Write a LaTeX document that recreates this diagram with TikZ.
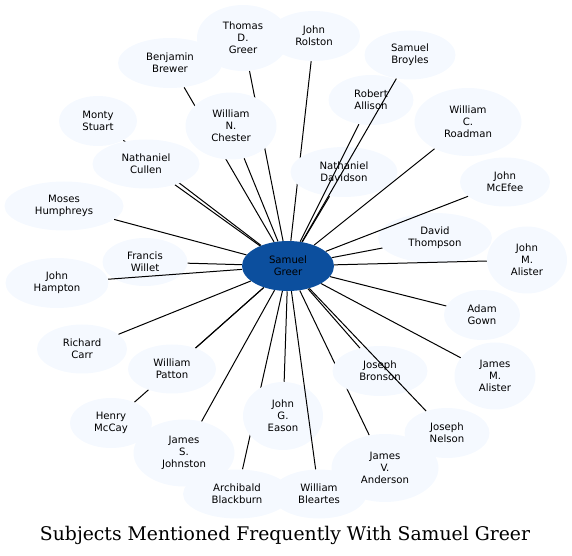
\documentclass[tikz,border=0pt]{standalone}
\usepackage{fontspec}
\newfontfamily\nodefont{DejaVu Sans}
\newfontfamily\titlefont{DejaVu Serif}
\usetikzlibrary{shapes.geometric}
\definecolor{nodefill}{HTML}{F5F9FF}
\definecolor{centerfill}{HTML}{0C4F9E}
\pgfdeclarelayer{background}
\pgfsetlayers{background,main}
\begin{document}
\begin{tikzpicture}[x=0.75pt,y=-0.75pt,
  pnode/.style={ellipse, fill=nodefill, inner sep=0pt, align=center,
    font=\nodefont\fontsize{7.6}{9}\selectfont},
  sz/.style 2 args={minimum width=#1*0.75pt, minimum height=#2*0.75pt},
  cnode/.style={pnode, fill=centerfill},
  edge/.style={line width=0.75pt, draw=black},
  titlestyle/.style={font=\titlefont\fontsize{14.1}{17}\selectfont, inner sep=0pt}]
\useasboundingbox (0,0) rectangle (572,556);

% nodes
\node[cnode, sz={92}{50}] (c) at (288,266) {Samuel\\Greer};
\node[pnode, sz={92}{66}] (tdg) at (243,38) {Thomas\\D.\\Greer};
\node[pnode, sz={92}{50}] (jr) at (314,36) {John\\Rolston};
\node[pnode, sz={91}{49}] (sb) at (410,55) {Samuel\\Broyles};
\node[pnode, sz={104}{50}] (bb) at (170,63) {Benjamin\\Brewer};
\node[pnode, sz={85}{50}] (ra) at (371,100) {Robert\\Allison};
\node[pnode, sz={107}{68}] (wcr) at (468,122) {William\\C.\\Roadman};
\node[pnode, sz={91}{67}] (wnc) at (231,126) {William\\N.\\Chester};
\node[pnode, sz={78}{50}] (ms) at (98,121) {Monty\\Stuart};
\node[pnode, sz={107}{49}] (nc) at (146,164) {Nathaniel\\Cullen};
\node[pnode, sz={107}{50}] (nd) at (344,172) {Nathaniel\\Davidson};
\node[pnode, sz={90}{49}] (jm) at (505,182) {John\\McEfee};
\node[pnode, sz={119}{49}] (mh) at (64,206) {Moses\\Humphreys};
\node[pnode, sz={114}{50}] (dt) at (435,238) {David\\Thompson};
\node[pnode, sz={85}{48}] (fw) at (145,262) {Francis\\Willet};
\node[pnode, sz={80}{67}] (jma) at (527,260) {John\\M.\\Alister};
\node[pnode, sz={103}{50}] (jh) at (57,283) {John\\Hampton};
\node[pnode, sz={76}{50}] (ag) at (482,315) {Adam\\Gown};
\node[pnode, sz={90}{49}] (rc) at (82,349) {Richard\\Carr};
\node[pnode, sz={88}{49}] (wp) at (172,369) {William\\Patton};
\node[pnode, sz={95}{50}] (jb) at (380,371) {Joseph\\Bronson};
\node[pnode, sz={81}{67}] (jmal) at (495,376) {James\\M.\\Alister};
\node[pnode, sz={80}{68}] (jge) at (283,416) {John\\G.\\Eason};
\node[pnode, sz={82}{50}] (hm) at (111,423) {Henry\\McCay};
\node[pnode, sz={85}{50}] (jn) at (447,433) {Joseph\\Nelson};
\node[pnode, sz={101}{67}] (jsj) at (184,453) {James\\S.\\Johnston};
\node[pnode, sz={107}{68}] (jva) at (385,468) {James\\V.\\Anderson};
\node[pnode, sz={108}{49}] (ab) at (237,494) {Archibald\\Blackburn};
\node[pnode, sz={95}{49}] (wb) at (319,494) {William\\Bleartes};

% edges hidden behind other nodes
\begin{pgfonlayer}{background}
\foreach \n in {tdg,bb,ms,jr,hm,ab,jva}
  \draw[edge] (c) -- (\n);
\end{pgfonlayer}

% edges drawn over nodes
\foreach \n in {sb,ra,wcr,wnc,nc,nd,jm,mh,dt,fw,jma,jh,ag,rc,wp,jb,jmal,jge,jn,jsj,wb}
  \draw[edge] (c) -- (\n);

\node[titlestyle, anchor=base] (title) at (285,540) {Subjects Mentioned Frequently With Samuel Greer};
\end{tikzpicture}
\end{document}
